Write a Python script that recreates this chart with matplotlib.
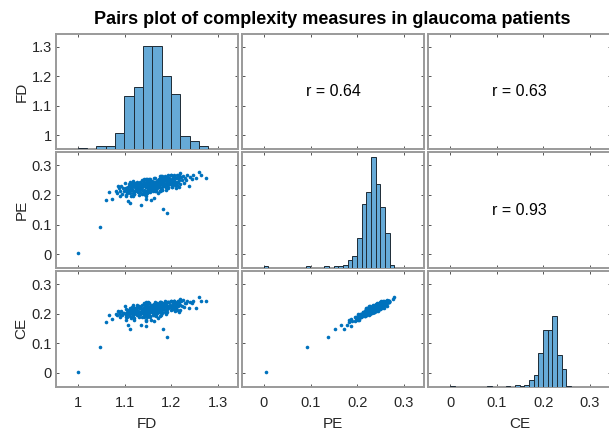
import numpy as np
import matplotlib
matplotlib.use('Agg')
import matplotlib.pyplot as plt
from matplotlib.ticker import FormatStrFormatter

plt.rcParams['font.family'] = ['Liberation Sans', 'DejaVu Sans']

# one entry per patient (in thousandths)
fd = np.array([
    1000, 1046, 1192, 1183, 1111, 1108, 1157, 1059, 1072, 1067,
    1082, 1095, 1088, 1099, 1085, 1091, 1097, 1084, 1093, 1089,
    1101, 1103, 1104, 1106, 1107, 1109, 1110, 1112, 1113, 1115, 1116, 1118, 1119, 1102, 1105,
    1108, 1111, 1114, 1117, 1102, 1106, 1110, 1113, 1116, 1119, 1104, 1108, 1112, 1115, 1118,
    1121, 1122, 1123, 1124, 1125, 1126, 1127, 1128, 1129, 1130, 1131, 1132, 1133, 1134, 1135,
    1136, 1137, 1138, 1139, 1120, 1122, 1124, 1126, 1128, 1130, 1132, 1134, 1136, 1138, 1121,
    1125, 1129, 1133, 1137, 1123, 1131, 1135,
    1140, 1141, 1142, 1143, 1144, 1145, 1146, 1147, 1148, 1149, 1150, 1151, 1152, 1153, 1154,
    1155, 1156, 1157, 1158, 1159, 1141, 1143, 1145, 1147, 1149, 1151, 1153, 1155, 1157, 1159,
    1140, 1142, 1144, 1146, 1148, 1150, 1152, 1154, 1156, 1158, 1141, 1144, 1147, 1150, 1153,
    1156, 1159, 1142, 1145, 1148, 1151, 1154, 1157, 1143, 1146, 1149, 1152, 1155, 1158, 1150,
    1145,
    1160, 1161, 1162, 1163, 1164, 1165, 1166, 1167, 1168, 1169, 1170, 1171, 1172, 1173, 1174,
    1175, 1176, 1177, 1178, 1179, 1161, 1163, 1165, 1167, 1169, 1171, 1173, 1175, 1177, 1179,
    1160, 1162, 1164, 1166, 1168, 1170, 1172, 1174, 1176, 1178, 1161, 1164, 1167, 1170, 1173,
    1176, 1179, 1162, 1165, 1168, 1171, 1174, 1177, 1163, 1166, 1169, 1172, 1175, 1178, 1164,
    1170, 1168,
    1180, 1181, 1182, 1183, 1184, 1185, 1186, 1187, 1188, 1189, 1190, 1191, 1192, 1193, 1194,
    1195, 1196, 1197, 1198, 1199, 1181, 1183, 1185, 1187, 1189, 1191, 1193, 1195, 1197, 1199,
    1180, 1184, 1188, 1192, 1196, 1182, 1186, 1190, 1194, 1198, 1185, 1193,
    1200, 1201, 1202, 1203, 1204, 1205, 1206, 1207, 1208, 1209, 1210, 1211, 1212, 1213, 1214,
    1215, 1216, 1217, 1218, 1219, 1201, 1203, 1205, 1207, 1209, 1211, 1213, 1215, 1217, 1219,
    1202, 1206, 1210,
    1221, 1223, 1225, 1227, 1229, 1232, 1235, 1238,
    1241, 1245, 1248, 1253, 1259,
    1264, 1275]) / 1000

pe = np.array([
    4, 93, 138, 152, 172, 178, 183, 183, 187, 211,
    214, 204, 224, 212, 232, 198, 223, 205, 229, 212,
    241, 197, 222, 209, 228, 217, 236, 207, 222, 216, 233, 195, 240, 199, 223,
    211, 243, 197, 230, 220, 207, 231, 217, 241, 206, 225, 212, 234, 220, 246,
    202, 227, 215, 233, 222, 240, 212, 226, 220, 238, 199, 244, 209, 232, 219,
    166, 204, 236, 231, 212, 234, 220, 244, 209, 233, 219, 241, 226, 252, 202,
    228, 216, 236, 226, 240, 213, 228,
    215, 241, 202, 236, 212, 235, 196, 254, 207, 239, 235, 221, 243, 229, 253,
    217, 240, 227, 248, 233, 253, 209, 234, 186, 240, 230, 249, 220, 235, 229,
    241, 202, 232, 212, 236, 214, 255, 209, 241, 237, 218, 241, 227, 252, 217,
    240, 227, 243, 229, 255, 211, 237, 225, 239, 228, 247, 219, 234, 229, 244,
    203,
    236, 217, 240, 218, 259, 212, 244, 240, 226, 237, 234, 238, 205, 246, 232,
    253, 238, 264, 219, 244, 226, 245, 234, 233, 224, 239, 234, 251, 213, 239,
    217, 240, 228, 259, 213, 246, 241, 228, 250, 236, 235, 220, 244, 231, 253,
    238, 264, 214, 240, 228, 247, 237, 256, 189, 237, 232, 250, 212, 258, 218,
    243, 216,
    264, 217, 249, 245, 231, 253, 238, 263, 227, 250, 237, 237, 243, 269, 224,
    249, 236, 255, 244, 239, 228, 243, 237, 234, 216, 262, 227, 250, 238, 269,
    217, 250, 246, 233, 256, 237, 262, 228, 252, 239, 256, 244,
    266, 226, 251, 239, 257, 246, 264, 236, 238, 244, 235, 223, 268, 233, 256,
    243, 268, 228, 260, 236, 236, 259, 244, 269, 233, 257, 244, 265, 251, 276,
    226, 252, 241,
    262, 252, 265, 242, 256, 251, 269, 231,
    262, 255, 268, 257, 279,
    267, 258]) / 1000

ce = np.array([
    2, 87, 121, 147, 149, 160, 178, 171, 181, 194,
    199, 194, 204, 203, 209, 187, 201, 194, 210, 197,
    226, 177, 217, 190, 208, 201, 212, 191, 206, 205, 221, 189, 222, 188, 206,
    199, 216, 184, 208, 195, 199, 213, 203, 216, 195, 198, 197, 220, 201, 228,
    184, 209, 201, 209, 218, 228, 194, 206, 208, 224, 188, 219, 198, 207, 203,
    162, 187, 215, 218, 199, 212, 214, 223, 195, 219, 197, 221, 204, 229, 178,
    207, 199, 204, 213, 218, 204, 206,
    202, 208, 198, 222, 197, 209, 176, 239, 188, 209, 208, 214, 216, 219, 224,
    192, 227, 215, 230, 221, 235, 192, 224, 157, 226, 209, 236, 218, 222, 205,
    210, 189, 206, 202, 216, 200, 236, 189, 225, 227, 194, 218, 213, 238, 206,
    223, 216, 217, 218, 221, 194, 204, 209, 229, 207, 234, 196, 208, 216, 215,
    179,
    206, 207, 212, 196, 229, 195, 208, 213, 224, 225, 225, 222, 185, 229, 223,
    223, 209, 239, 195, 218, 196, 232, 219, 225, 217, 212, 224, 224, 205, 222,
    209, 213, 224, 238, 202, 232, 228, 219, 217, 224, 229, 209, 225, 207, 220,
    226, 237, 201, 232, 197, 225, 206, 239, 174, 225, 202, 215, 191, 240, 214,
    237, 193,
    227, 207, 228, 224, 214, 227, 226, 241, 208, 235, 225, 206, 218, 240, 219,
    222, 226, 227, 227, 213, 214, 218, 226, 207, 199, 240, 223, 238, 226, 241,
    203, 235, 229, 217, 224, 214, 229, 213, 239, 228, 237, 222,
    242, 217, 221, 223, 230, 235, 244, 221, 223, 217, 217, 218, 238, 212, 242,
    226, 239, 206, 230, 211, 222, 231, 217, 241, 209, 236, 228, 241, 234, 249,
    214, 242, 228,
    242, 226, 246, 221, 235, 235, 243, 220,
    238, 236, 244, 218, 257,
    243, 242]) / 1000

names = ['FD', 'PE', 'CE']
r_labels = {(0, 1): 'r = 0.64', (0, 2): 'r = 0.63', (1, 2): 'r = 0.93'}
ticks = [[1, 1.1, 1.2, 1.3], [0, 0.1, 0.2, 0.3], [0, 0.1, 0.2, 0.3]]
lims = [(0.952, 1.344), (-0.047, 0.344), (-0.047, 0.344)]
bins = [np.arange(0.9995, 1.29, 0.02), np.arange(-0.0005, 0.29, 0.01), np.arange(-0.0005, 0.27, 0.01)]
hist_top = [69, 70, 118]

data = [fd, pe, ce]
blue = '#0072BD'
frame = '#9a9a9a'
txt = '#262626'

fig = plt.figure(figsize=(6.09, 4.30), dpi=100)
W, H = 609, 430
col_left = [55.8, 242.0, 428.2]
row_top = [33.8, 152.4, 271.0]
aw, ah = 182.3, 115.6

for i in range(3):
    for j in range(3):
        rect = [col_left[j] / W, 1 - (row_top[i] + ah) / H, aw / W, ah / H]
        ax = fig.add_axes(rect)
        ax.set_xlim(lims[j])
        ax.set_ylim(lims[i])
        ax.set_xticks(ticks[j])
        ax.set_yticks(ticks[i])
        ax.xaxis.set_major_formatter(FormatStrFormatter('%g'))
        ax.yaxis.set_major_formatter(FormatStrFormatter('%g'))
        ax.tick_params(direction='in', length=2.5, width=0.7, color='#555555',
                       top=True, right=True, labelsize=10.5, labelcolor=txt)
        ax.tick_params(axis='x', pad=6.5)
        ax.tick_params(axis='y', pad=3)
        for s in ax.spines.values():
            s.set_color(frame)
            s.set_linewidth(1.4)
        if i < 2:
            ax.tick_params(labelbottom=False)
        else:
            ax.set_xlabel(names[j], fontsize=11, color=txt, labelpad=5.5)
        if j > 0:
            ax.tick_params(labelleft=False)
        else:
            ax.set_ylabel(names[i], fontsize=11, color=txt, labelpad=2)

        if i > j:
            ax.plot(data[j], data[i], 'o', ms=2.6, mew=0, color=blue)
        elif i < j:
            ax.text(0.5, 0.5, r_labels[(i, j)], transform=ax.transAxes,
                    ha='center', va='center', fontsize=11.5, color='black')
        else:
            # histogram on its own axes over the diagonal panel
            hax = fig.add_axes(rect)
            hax.hist(data[i], bins=bins[i], color='#66AAD7', edgecolor='#1e2b36', linewidth=0.7)
            hax.set_xlim(lims[i])
            hax.set_ylim(0, hist_top[i])
            hax.axis('off')

fig.text(332 / W, 1 - 19 / H, 'Pairs plot of complexity measures in glaucoma patients',
         ha='center', va='center', fontsize=13, fontweight='bold', color='black')

fig.savefig('out.png', dpi=100)
